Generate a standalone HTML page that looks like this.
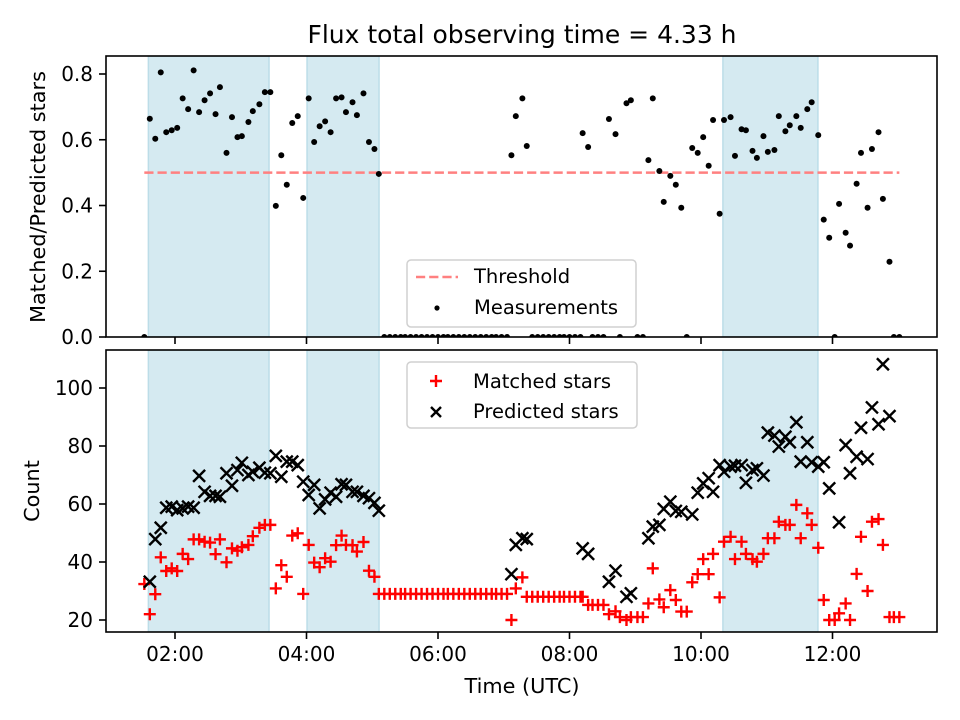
<!DOCTYPE html>
<html><head><meta charset="utf-8"><style>
html,body{margin:0;padding:0;background:#fff;}
svg{display:block;font-family:"DejaVu Sans","Liberation Sans",sans-serif;}
</style></head><body>
<svg id="chart" width="960" height="720" viewBox="0 0 960 720" xmlns="http://www.w3.org/2000/svg">
<rect width="960" height="720" fill="#fff"/>
<text x="522" y="43" font-size="25" text-anchor="middle" fill="#000">Flux total observing time = 4.33 h</text>
<g id="topPanel"></g>
<g id="botPanel"></g>
<text transform="translate(45,197) rotate(-90)" font-size="20.8" text-anchor="middle">Matched/Predicted stars</text>
<text transform="translate(39,491) rotate(-90)" font-size="20.8" text-anchor="middle">Count</text>
<text x="522" y="693" font-size="20.8" text-anchor="middle">Time (UTC)</text>
</svg>
<script>
// times in minutes after 00:00 UTC
const ratioTimes=[92,97,102,107,112,117,122,127,132,137,142,147,152,157,161,167,172,177,181,187,191,197,202,207,212,217,222,227,232,237,242,247,252,257,262,267,272,276,282,286,292,297,302,306,
311,316,321,326,330,335,340,345,350,355,360,365,369,374,379,384,389,394,399,404,409,413,418,423,
427,431,437,441,446,451,456,461,466,471,475,480,485,490,492,497,501,506,511,516,522,526,532,536,542,547,
552,556,562,566,572,577,582,587,592,597,602,607,611,617,621,627,631,637,641,647,651,657,661,667,671,677,681,687,691,697,701,707,712,717,722,726,732,736,742,746,752,756,762,766,772,776,781];
const ratioValues=[0,0.664,0.603,0.805,0.623,0.629,0.636,0.726,0.693,0.811,0.684,0.720,0.741,0.678,0.760,0.560,0.669,0.608,0.611,0.654,0.687,0.708,0.745,0.745,0.399,0.553,0.463,0.651,0.672,0.423,0.726,0.593,0.641,0.656,0.623,0.726,0.729,0.684,0.714,0.675,0.741,0.593,0.572,0.496,
0,0,0,0,0,0,0,0,0,0,0,0,0,0,0,0,0,0,0,0,0,0,0,0,
0.553,0.672,0.726,0.581,0,0,0,0,0,0,0,0,0,0,0.620,0.578,0,0,0,0.663,0.617,0,0.711,0.720,0,0,
0.538,0.726,0.505,0.411,0.490,0.463,0.393,0,0.575,0.560,0.608,0.521,0.660,0.375,0.660,0.669,0.551,0.632,0.629,0.566,0.545,0.611,0.563,0.569,0.672,0.626,0.644,0.672,0.636,0.693,0.714,0.614,0.357,0.302,0,0.405,0.317,0.278,0.466,0.560,0.393,0.572,0.623,0.420,0.229,0,0];
const thresholdValue=0.5;
const thresholdRange=[92,781];
const matchedTimes=[92,97,102,107,112,117,122,127,132,137,142,147,152,157,161,167,172,177,181,187,191,197,202,207,212,217,222,227,232,237,242,247,252,257,262,267,272,276,282,286,292,297,302,306,
311,316,321,326,330,335,340,345,350,355,360,365,369,374,379,384,389,394,399,404,409,413,418,423,
427,431,437,441,446,451,456,461,466,471,475,480,485,490,492,497,501,506,511,516,522,526,532,536,542,547,
552,556,562,566,572,577,582,587,592,597,602,607,611,617,621,627,631,637,641,647,651,657,661,667,671,677,681,687,691,697,701,707,712,717,722,726,732,736,742,746,752,756,762,766,772,776,781];
const matchedValues=[32.4,22,28.9,41.6,36.9,37.8,36.9,42.8,41,47.8,47.8,47,46.7,42.7,47.8,39.9,44.7,43.9,45.1,45.9,48.9,51.8,52.8,52.8,30.9,38.9,34.9,49.1,49.9,29,45.9,39.8,38.2,41.3,40.1,45.8,49.1,45.9,45.8,43.6,46.9,37,34.9,29,
29,29,29,29,29,29,29,29,29,29,29,29,29,29,29,29,29,29,29,29,29,29,29,29,
20,30.9,34.7,28,28,28,28,28,28,28,28,28,28,28,28,25.2,25.2,25.2,25.2,22,23,21,20,21,21,21,
25.7,37.8,27.1,24.4,30.3,26.9,22.9,22.9,33,35.8,41,35.8,42.8,27.8,47,48.7,41,47,42.8,41,40.1,42.8,48.2,48.2,53.9,52.8,52.8,59.7,48.2,56.8,52.8,44.9,26.9,20,20,22.3,25.7,20,35.9,48.7,30,53.9,54.8,45.9,21,21,21];
const predictedTimes=[97,102,107,112,117,122,127,132,137,142,147,152,157,161,167,172,177,181,187,191,197,202,207,212,217,222,227,232,237,242,247,252,257,262,267,272,276,282,286,292,297,302,306,
427,431,437,441,492,497,516,522,532,536,
552,556,562,566,572,577,582,592,597,602,607,611,617,621,627,631,637,641,647,651,657,661,667,671,677,681,687,691,697,701,707,712,717,726,732,736,742,746,752,756,762,766,772];
const predictedValues=[33.2,47.9,51.8,58.7,59.1,57.9,58.5,59.1,58.7,69.7,64.2,62.8,62.8,62.5,70.6,66.3,71.7,74.2,70,71.1,72.5,70.8,70.6,76.6,69.4,74.6,74.6,73.4,67.7,63.1,66.6,58.5,61.6,63.9,62.5,66.8,66.6,64.2,64.2,62.8,62,60.4,57.7,
35.8,45.9,48.2,47.9,44.7,42.8,33.2,37,28,29.2,
48.2,52.2,52.8,58.3,60.8,57.6,57.3,56.4,63.9,67.1,68.9,64.2,73.4,71.1,72.9,73.2,73.4,67.3,71.7,72.3,69.8,84.6,83.6,79.8,83.2,81.3,88.2,74.6,81.3,74.4,72.9,74.4,65.4,53.7,80.3,70.6,76.3,86.3,75.5,93.3,87.5,108.2,90.3];
const spanStarts=[95.7,240.5,620];
const spanEnds=[205.8,306.2,706.7];
const xTickMinutes=[120,240,360,480,600,720];
const xTickLabels=["02:00","04:00","06:00","08:00","10:00","12:00"];
const ratioTicks=[0,0.2,0.4,0.6,0.8];
const ratioTickLabels=["0.0","0.2","0.4","0.6","0.8"];
const countTicks=[20,40,60,80,100];

const NS="http://www.w3.org/2000/svg";
const L=106,R=937,T1=56,B1=337,T2=350,B2=632;
function xS(m){return 43.5+m*65.75/60;}
function yTop(v){return 337-v*328.75;}
function yBot(v){return 620-(v-20)*2.9;}
function mk(tag,attrs,parent){const e=document.createElementNS(NS,tag);for(const k in attrs)e.setAttribute(k,attrs[k]);parent.appendChild(e);return e;}
const topG=document.getElementById('topPanel'),botG=document.getElementById('botPanel');
const defs=mk('defs',{},document.getElementById('chart'));
const c1=mk('clipPath',{id:'c1'},defs);mk('rect',{x:L,y:T1,width:R-L,height:B1-T1},c1);
const c2=mk('clipPath',{id:'c2'},defs);mk('rect',{x:L,y:T2,width:R-L,height:B2-T2},c2);

function panel(g,T,B,clip,yS,ticks,labels,nm){
  const cg=mk('g',{'clip-path':'url(#'+clip+')'},g);
  for(let i=0;i<spanStarts.length;i++){
    const r=mk('rect',{x:xS(spanStarts[i]),y:T,width:xS(spanEnds[i])-xS(spanStarts[i]),height:B-T,fill:'#d5eaf1',stroke:'#bcdde8','stroke-width':1.5},cg);
    
    
  }
  for(let i=0;i<xTickMinutes.length;i++){
    const x=xS(xTickMinutes[i]);
    const t=mk('line',{x1:x,x2:x,y1:B,y2:B+7,stroke:'#000','stroke-width':1.6},g);
    
    
  }
  for(let i=0;i<ticks.length;i++){
    const y=yS(ticks[i]);
    const t=mk('line',{x1:L-7,x2:L,y1:y,y2:y,stroke:'#000','stroke-width':1.6},g);
    
    
    const tx=mk('text',{x:L-13,y:y+7,'font-size':20,'text-anchor':'end'},g);
    tx.textContent=labels[i];
    
    
  }
  return cg;
}
const tg=panel(topG,T1,B1,'c1',yTop,ratioTicks,ratioTickLabels,'ratio');
const bg=panel(botG,T2,B2,'c2',yBot,countTicks,countTicks.map(String),'count');
for(let i=0;i<xTickMinutes.length;i++){
  const tx=mk('text',{x:xS(xTickMinutes[i]),y:661,'font-size':20,'text-anchor':'middle'},botG);
  tx.textContent=xTickLabels[i];
  
  
}
const th=mk('line',{x1:xS(thresholdRange[0]),x2:xS(thresholdRange[1]),y1:yTop(thresholdValue),y2:yTop(thresholdValue),stroke:'#ff8080','stroke-width':2.5,'stroke-dasharray':'9.2,4'},tg);


for(let i=0;i<ratioTimes.length;i++){
  const c=mk('circle',{cx:xS(ratioTimes[i]),cy:yTop(ratioValues[i]),r:3,fill:'#000'},tg);
  
  
}
for(let i=0;i<matchedTimes.length;i++){
  const x=xS(matchedTimes[i]),y=yBot(matchedValues[i]);
  const p=mk('path',{d:`M${x-6},${y}H${x+6}M${x},${y-6}V${y+6}`,stroke:'#ff0000','stroke-width':2.4},bg);
  
  
}
for(let i=0;i<predictedTimes.length;i++){
  const x=xS(predictedTimes[i]),y=yBot(predictedValues[i]);
  const p=mk('path',{d:`M${x-6},${y-6}L${x+6},${y+6}M${x-6},${y+6}L${x+6},${y-6}`,stroke:'#000','stroke-width':2.4},bg);
  
  
}
const f1=mk('rect',{x:L,y:T1,width:R-L,height:B1-T1,fill:'none',stroke:'#000','stroke-width':1.6},topG);


const f2=mk('rect',{x:L,y:T2,width:R-L,height:B2-T2,fill:'none',stroke:'#000','stroke-width':1.6},botG);


const lg1=mk('g',{},topG);


mk('rect',{x:407,y:260,width:229,height:67,rx:4,fill:'#fff','fill-opacity':0.8,stroke:'#d0d0d0','stroke-width':1.5},lg1);
mk('line',{x1:416,x2:458,y1:277,y2:277,stroke:'#ff8080','stroke-width':2.5,'stroke-dasharray':'9.2,4'},lg1);
mk('circle',{cx:437,cy:308,r:2.6,fill:'#000'},lg1);
const l1=mk('text',{x:474,y:283,'font-size':19.5},lg1);l1.textContent='Threshold';


const l2=mk('text',{x:474,y:314,'font-size':19.5},lg1);l2.textContent='Measurements';


const lg2=mk('g',{},botG);


mk('rect',{x:407,y:362,width:230,height:66,rx:4,fill:'#fff','fill-opacity':0.8,stroke:'#d0d0d0','stroke-width':1.5},lg2);
mk('path',{d:'M430,381H442M436,375V387',stroke:'#ff0000','stroke-width':2.4},lg2);
mk('path',{d:'M431,407L441,417M431,417L441,407',stroke:'#000','stroke-width':2.4},lg2);
const l3=mk('text',{x:473,y:388,'font-size':19.5},lg2);l3.textContent='Matched stars';


const l4=mk('text',{x:473,y:418,'font-size':19.5},lg2);l4.textContent='Predicted stars';


</script>
</body></html>
